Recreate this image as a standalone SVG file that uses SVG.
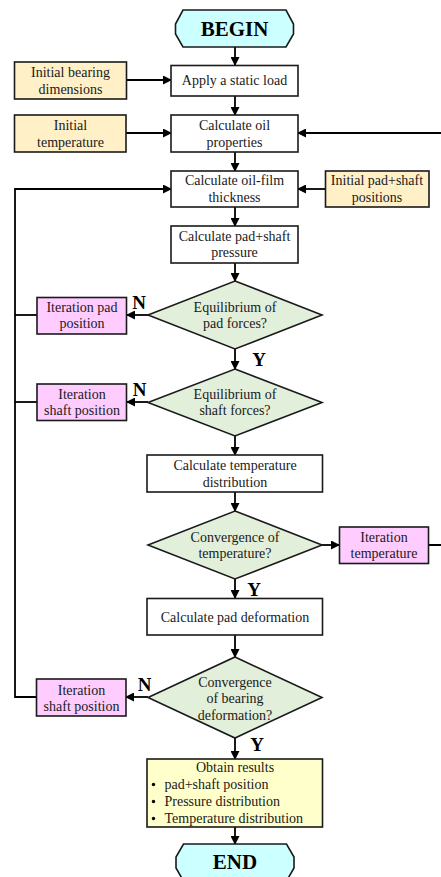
<svg xmlns="http://www.w3.org/2000/svg" width="441" height="877" viewBox="0 0 441 877">
<style>
.box{stroke:#1a1a1a;stroke-width:1.6}
.proc{fill:#ffffff}
.inp{fill:#fff0c8}
.iter{fill:#ffccff}
.dec{fill:#e2efda}
.term{fill:#ccffff}
.res{fill:#ffffcc}
.t{font-family:"Liberation Serif","DejaVu Serif",serif;font-size:14px;fill:#1a1a1a;text-anchor:middle}
.tl{font-family:"Liberation Serif","DejaVu Serif",serif;font-size:14px;fill:#1a1a1a}
.big{font-family:"Liberation Serif","DejaVu Serif",serif;font-size:21px;font-weight:bold;fill:#000;text-anchor:middle}
.lab{font-family:"Liberation Serif","DejaVu Serif",serif;font-size:19px;font-weight:bold;fill:#000;text-anchor:middle}
.c{fill:none;stroke:#000;stroke-width:1.8}
</style>
<defs>
<marker id="ah" markerWidth="9" markerHeight="9" refX="8" refY="4.5" orient="auto" markerUnits="userSpaceOnUse">
<path d="M0,0 L9,4.5 L0,9 z" fill="#000"/>
</marker>
</defs>

<g id="connectors">
<path class="c" d="M235,47 V65" marker-end="url(#ah)"/>
<path class="c" d="M127,80 H171" marker-end="url(#ah)"/>
<path class="c" d="M235,96 V115" marker-end="url(#ah)"/>
<path class="c" d="M126,133 H171" marker-end="url(#ah)"/>
<path class="c" d="M235,152 V171" marker-end="url(#ah)"/>
<path class="c" d="M325,189 H298" marker-end="url(#ah)"/>
<path class="c" d="M235,207 V226" marker-end="url(#ah)"/>
<path class="c" d="M235,263 V281" marker-end="url(#ah)"/>
<path class="c" d="M148,315 H127" marker-end="url(#ah)"/>
<path class="c" d="M235,349 V369" marker-end="url(#ah)"/>
<path class="c" d="M148,402 H127" marker-end="url(#ah)"/>
<path class="c" d="M235,436 V455" marker-end="url(#ah)"/>
<path class="c" d="M235,492 V511" marker-end="url(#ah)"/>
<path class="c" d="M322,545 H339" marker-end="url(#ah)"/>
<path class="c" d="M428,545 H443 V133 H298" marker-end="url(#ah)"/>
<path class="c" d="M235,579 V598" marker-end="url(#ah)"/>
<path class="c" d="M235,635 V657" marker-end="url(#ah)"/>
<path class="c" d="M148,697 H126" marker-end="url(#ah)"/>
<path class="c" d="M235,738 V759" marker-end="url(#ah)"/>
<path class="c" d="M235,827 V844" marker-end="url(#ah)"/>
<path class="c" d="M36,697 H15 V189 H171" marker-end="url(#ah)"/>
<path class="c" d="M15,315 H37"/>
<path class="c" d="M15,402 H37"/>
<text class="lab" x="139" y="309">N</text>
<text class="lab" x="259" y="366">Y</text>
<text class="lab" x="139.5" y="396">N</text>
<text class="lab" x="254" y="596">Y</text>
<text class="lab" x="144.5" y="691">N</text>
<text class="lab" x="257" y="751">Y</text>
</g>

<g id="begin">
<polygon class="box term" points="183,10 286,10 293.5,24 293.5,34 286,47 183,47 175.5,34 175.5,24"/>
<text class="big" x="234.5" y="36">BEGIN</text>
</g>

<g id="bearing-dims">
<rect class="box inp" x="14.5" y="62" width="112" height="37"/>
<text class="t" x="70.5" y="77">Initial bearing</text>
<text class="t" x="70.5" y="93.5">dimensions</text>
</g>

<g id="static-load">
<rect class="box proc" x="171" y="65.5" width="127" height="30.5"/>
<text class="t" x="234.5" y="85">Apply a static load</text>
</g>

<g id="init-temp">
<rect class="box inp" x="14.5" y="115" width="111.5" height="37"/>
<text class="t" x="70.5" y="129.5">Initial</text>
<text class="t" x="70.5" y="146.5">temperature</text>
</g>

<g id="oil-props">
<rect class="box proc" x="171" y="115" width="127" height="37"/>
<text class="t" x="234.5" y="129.5">Calculate oil</text>
<text class="t" x="234.5" y="146.5">properties</text>
</g>

<g id="film-thickness">
<rect class="box proc" x="171" y="171" width="127" height="36"/>
<text class="t" x="234.5" y="185">Calculate oil-film</text>
<text class="t" x="234.5" y="202">thickness</text>
</g>

<g id="init-positions">
<rect class="box inp" x="325.5" y="171" width="103.5" height="36"/>
<text class="t" x="377" y="185">Initial pad+shaft</text>
<text class="t" x="377" y="202">positions</text>
</g>

<g id="pressure">
<rect class="box proc" x="171" y="226" width="127" height="37"/>
<text class="t" x="234.5" y="240.5">Calculate pad+shaft</text>
<text class="t" x="234.5" y="257">pressure</text>
</g>

<g id="pad-eq">
<polygon class="box dec" points="235,281 322,315 235,349 148,315"/>
<text class="t" x="235" y="312">Equilibrium of</text>
<text class="t" x="235" y="327.5">pad forces?</text>
</g>

<g id="iter-pad">
<rect class="box iter" x="37" y="297.5" width="89.5" height="36.5"/>
<text class="t" x="82" y="312">Iteration pad</text>
<text class="t" x="82" y="328">position</text>
</g>

<g id="shaft-eq">
<polygon class="box dec" points="235,369 322,402.5 235,436 148,402.5"/>
<text class="t" x="235" y="398.5">Equilibrium of</text>
<text class="t" x="235" y="414.5">shaft forces?</text>
</g>

<g id="iter-shaft-1">
<rect class="box iter" x="37" y="384" width="89.5" height="36.5"/>
<text class="t" x="82" y="398.5">Iteration</text>
<text class="t" x="82" y="414.5">shaft position</text>
</g>

<g id="temp-dist">
<rect class="box proc" x="147" y="455" width="175.5" height="37"/>
<text class="t" x="235" y="469.5">Calculate temperature</text>
<text class="t" x="235" y="486.5">distribution</text>
</g>

<g id="temp-conv">
<polygon class="box dec" points="235,511 322,545 235,579 148,545"/>
<text class="t" x="235" y="542">Convergence of</text>
<text class="t" x="235" y="558">temperature?</text>
</g>

<g id="iter-temp">
<rect class="box iter" x="339.5" y="527" width="89" height="36.5"/>
<text class="t" x="384" y="542">Iteration</text>
<text class="t" x="384" y="558">temperature</text>
</g>

<g id="pad-deform">
<rect class="box proc" x="147" y="598.5" width="175.5" height="36.5"/>
<text class="t" x="235" y="622">Calculate pad deformation</text>
</g>

<g id="deform-conv">
<polygon class="box dec" points="235,657 322,697.5 235,738 148,697.5"/>
<text class="t" x="235" y="686.5">Convergence</text>
<text class="t" x="235" y="703">of bearing</text>
<text class="t" x="235" y="719.5">deformation?</text>
</g>

<g id="iter-shaft-2">
<rect class="box iter" x="36.5" y="679" width="89.5" height="37"/>
<text class="t" x="81.5" y="694.5">Iteration</text>
<text class="t" x="81.5" y="710.5">shaft position</text>
</g>

<g id="results">
<rect class="box res" x="147" y="759" width="175.5" height="68"/>
<text class="t" x="235" y="772">Obtain results</text>
<circle cx="153.5" cy="784.5" r="1.7" fill="#000"/>
<circle cx="153.5" cy="801.5" r="1.7" fill="#000"/>
<circle cx="153.5" cy="818.5" r="1.7" fill="#000"/>
<text class="tl" x="164.5" y="789">pad+shaft position</text>
<text class="tl" x="164.5" y="806">Pressure distribution</text>
<text class="tl" x="164.5" y="823">Temperature distribution</text>
</g>

<g id="end">
<polygon class="box term" points="183.5,844 286.5,844 294,857 294,868 286.5,881 183.5,881 176,868 176,857"/>
<text class="big" x="235" y="869">END</text>
</g>
</svg>
